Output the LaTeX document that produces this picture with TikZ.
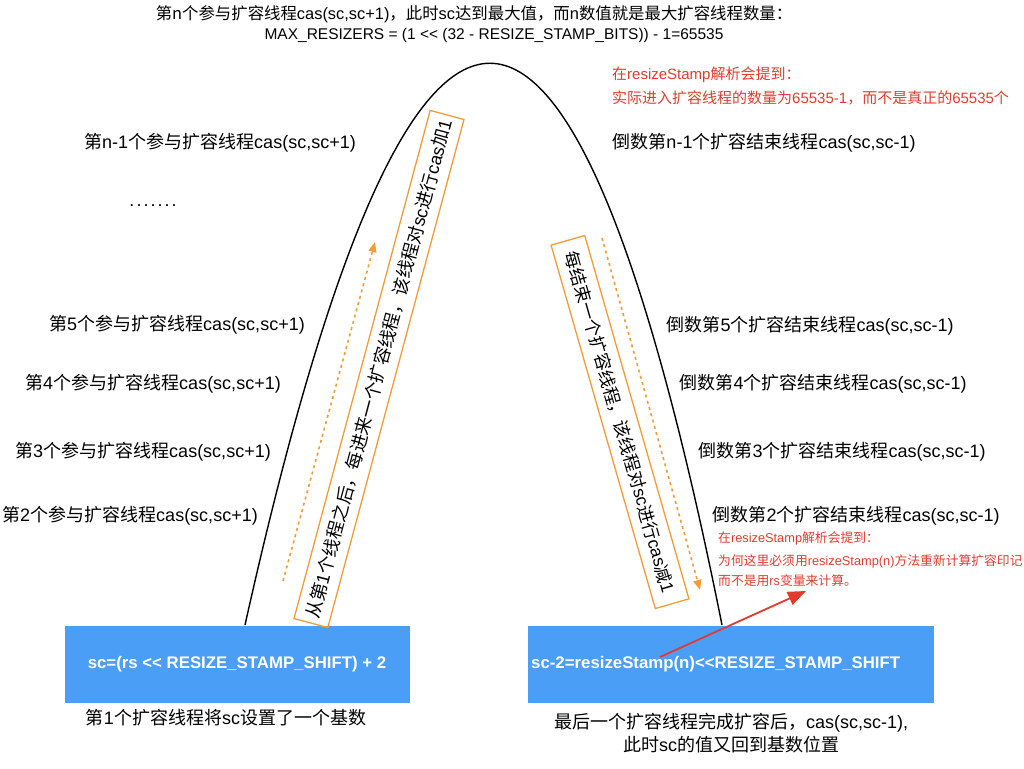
\documentclass[tikz,border=0pt]{standalone}
\usepackage{fontspec}
\setmainfont{Noto Sans CJK SC}
\newfontfamily\lat{Liberation Sans}
\usetikzlibrary{arrows.meta}
\definecolor{boxblue}{HTML}{4A9EF6}
\definecolor{org}{HTML}{F39B36}
\definecolor{redn}{HTML}{E23B2E}
\begin{document}
\begin{tikzpicture}[x=1pt,y=-1pt,
  lbl/.style={inner sep=0pt, font=\fontsize{18}{21}\selectfont},
  toptxt/.style={inner sep=0pt, font=\fontsize{16.4}{19}\selectfont},
  rednote/.style={inner sep=0pt, anchor=west, text=redn, font=\fontsize{15}{18}\selectfont},
  rednote2/.style={inner sep=0pt, anchor=west, text=redn, font=\fontsize{12.8}{16}\selectfont},
  bluebox/.style={fill=boxblue, draw=none, minimum height=77pt, inner sep=0pt},
  boxtxt/.style={inner sep=0pt, text=white, font=\lat\bfseries\fontsize{16.8}{19}\selectfont},
  rotbox/.style={draw=org, line width=1.3pt, minimum height=35pt, inner sep=0pt, font=\fontsize{18}{21}\selectfont},
  dotarrow/.style={draw=org, line width=1.6pt, dash pattern=on 3pt off 3.5pt, -{Triangle[length=10pt,width=8pt,fill=org]}},
  redarrow/.style={draw=redn, line width=1.8pt, -{Triangle[length=18pt,width=14pt,fill=redn]}}
]
\useasboundingbox (0,0) rectangle (1024,768);

% parabola
\draw[line width=1.4pt] (245,625) .. controls (412,-124) and (572,-124) .. (722,625);

% blue boxes
\node[bluebox, minimum width=345pt] (b1) at (237.5,664.5) {};
\node[boxtxt] (t1) at (237,664) {sc=(rs << RESIZE\_STAMP\_SHIFT) + 2};
\node[bluebox, minimum width=406pt] (b2) at (731,664.5) {};
\node[boxtxt, anchor=west] (t2) at (531,664) {sc-2=resizeStamp(n)<<RESIZE\_STAMP\_SHIFT};

% top text
\node[toptxt] (top1) at (474,14) {第n个参与扩容线程{\lat cas(sc,sc+1)}，此时{\lat sc}达到最大值，而{\lat n}数值就是最大扩容线程数量：};
\node[toptxt, font=\lat\fontsize{15.5}{18}\selectfont] (top2) at (494,35) {MAX\_RESIZERS = (1 << (32 - RESIZE\_STAMP\_BITS)) - 1=65535};

% red note 1
\node[rednote] (r1a) at (612,75) {在{\lat resizeStamp}解析会提到：};
\node[rednote] (r1b) at (612,98) {实际进入扩容线程的数量为{\lat 65535-1}，而不是真正的{\lat 65535}个};

% left labels
\node[lbl] (l1) at (220,143) {第{\lat n-1}个参与扩容线程{\lat cas(sc,sc+1)}};
\node[lbl, font=\lat\fontsize{18}{21}\selectfont] (ld) at (153,206) {.\kern2pt.\kern2pt.\kern2pt.\kern2pt.\kern2pt.\kern2pt.};
\node[lbl] (l5) at (177,325) {第{\lat 5}个参与扩容线程{\lat cas(sc,sc+1)}};
\node[lbl] (l4) at (153,384) {第{\lat 4}个参与扩容线程{\lat cas(sc,sc+1)}};
\node[lbl] (l3) at (143,452) {第{\lat 3}个参与扩容线程{\lat cas(sc,sc+1)}};
\node[lbl] (l2) at (130,516) {第{\lat 2}个参与扩容线程{\lat cas(sc,sc+1)}};

% right labels
\node[lbl] (r1) at (764,143) {倒数第{\lat n-1}个扩容结束线程{\lat cas(sc,sc-1)}};
\node[lbl] (r5) at (810,326) {倒数第{\lat 5}个扩容结束线程{\lat cas(sc,sc-1)}};
\node[lbl] (r4) at (823,384) {倒数第{\lat 4}个扩容结束线程{\lat cas(sc,sc-1)}};
\node[lbl] (r3) at (842,452) {倒数第{\lat 3}个扩容结束线程{\lat cas(sc,sc-1)}};
\node[lbl] (r2) at (856,516) {倒数第{\lat 2}个扩容结束线程{\lat cas(sc,sc-1)}};

% red note 2
\node[rednote2] (n2a) at (718,538) {在{\lat resizeStamp}解析会提到：};
\node[rednote2] (n2b) at (718,561) {为何这里必须用{\lat resizeStamp(n)}方法重新计算扩容印记};
\node[rednote2] (n2c) at (718,581) {而不是用{\lat rs}变量来计算。};

% rotated boxes
\node[rotbox, rotate=75, minimum width=526pt] (lb) at (379,369) {从第{\lat 1}个线程之后，每进来一个扩容线程，该线程对{\lat sc}进行{\lat cas}加{\lat 1}};
\node[rotbox, rotate=-74, minimum width=378pt, font=\fontsize{17.6}{21}\selectfont] (rb) at (620,422) {每结束一个扩容线程，该线程对{\lat sc}进行{\lat cas}减{\lat 1}};

% dotted arrows
\coordinate (la0) at (283,581);
\coordinate (la1) at (375,242);
\draw[dotarrow] (la0) -- (la1);
\coordinate (ra0) at (602,238);
\coordinate (ra1) at (700,590);
\draw[dotarrow] (ra0) -- (ra1);

% red arrow
\coordinate (rr0) at (660,657);
\coordinate (rr1) at (806,591);
\draw[redarrow] (rr0) -- (rr1);

% bottom texts
\node[lbl] (bl) at (226,718) {第{\lat 1}个扩容线程将{\lat sc}设置了一个基数};
\node[lbl, align=center, font=\fontsize{18}{23}\selectfont] (br) at (731,733) {最后一个扩容线程完成扩容后，{\lat cas(sc,sc-1),}\\此时{\lat sc}的值又回到基数位置};
\end{tikzpicture}
\end{document}
